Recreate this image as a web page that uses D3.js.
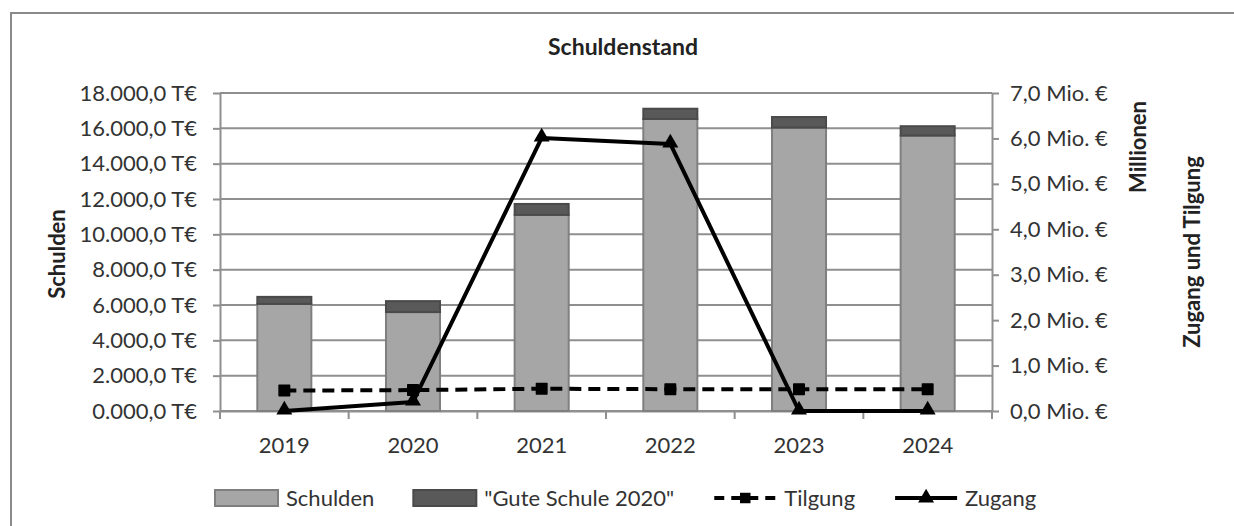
<!DOCTYPE html>
<html>
<head>
    <title>Schuldenstand</title>
    <meta charset="utf-8">
    <style>
        body { margin: 0; background: #fff; }
        text { font-family: Lato, "Open Sans", sans-serif; fill: #333; }
    </style>
</head>
<body>
<script src="https://d3js.org/d3.v7.min.js"></script>
<script>
    // Data
    const years = ['2019', '2020', '2021', '2022', '2023', '2024'];
    const schulden = [6060, 5600, 11100, 16530, 16040, 15590];     // T€
    const guteSchule = [400, 620, 620, 580, 600, 530];             // T€
    const tilgung = [0.45, 0.46, 0.49, 0.48, 0.48, 0.48];          // Mio. €
    const zugang = [0, 0.2, 6.01, 5.88, 0, 0];                     // Mio. €
    const leftTicks = [0, 2000, 4000, 6000, 8000, 10000, 12000, 14000, 16000, 18000];
    const rightTicks = [0, 1, 2, 3, 4, 5, 6, 7];

    const SIZES = {WIDTH: 1234, HEIGHT: 526, LEFT: 220, RIGHT: 992, TOP: 93, BOTTOM: 411};
    const GRID = '#8f8f8f';

    const de = d3.formatLocale({decimal: ',', thousands: '.', grouping: [3], currency: ['', '€']});
    const fmtLeft = v => de.format('07,.1f')(v) + ' T€';
    const fmtRight = v => de.format('.1f')(v) + ' Mio. €';

    const svg = d3.select('body').append('svg')
        .attr('width', SIZES.WIDTH)
        .attr('height', SIZES.HEIGHT);

    // chart border (runs off the right and bottom of the picture)
    svg.append('rect')
        .attr('x', 11).attr('y', 13)
        .attr('width', 1400).attr('height', 700)
        .attr('fill', 'none').attr('stroke', '#8a8a8a').attr('stroke-width', 2);

    const x = d3.scaleBand().domain(years).range([SIZES.LEFT, SIZES.RIGHT]);
    const yL = d3.scaleLinear().domain([0, 18000]).range([SIZES.BOTTOM, SIZES.TOP]);
    const yR = d3.scaleLinear().domain([0, 7]).range([SIZES.BOTTOM, SIZES.TOP]);
    const cx = d => x(d) + x.bandwidth() / 2;

    // gridlines
    svg.append('g').selectAll('line').data(leftTicks).join('line')
        .attr('x1', SIZES.LEFT).attr('x2', SIZES.RIGHT)
        .attr('y1', d => yL(d)).attr('y2', d => yL(d))
        .attr('stroke', GRID).attr('stroke-width', 2);

    // axes
    const styleAxis = g => {
        g.select('.domain').attr('stroke', GRID).attr('stroke-width', 2);
        g.selectAll('.tick line').attr('stroke', GRID).attr('stroke-width', 2);
        g.selectAll('text').attr('font-size', 22).attr('fill', '#333')
            .style('font-family', 'Lato, sans-serif');
    };
    svg.append('g')
        .attr('transform', `translate(${SIZES.LEFT},0)`)
        .call(d3.axisLeft(yL).tickValues(leftTicks).tickFormat(fmtLeft).tickSize(7).tickSizeOuter(0).tickPadding(16))
        .call(styleAxis);
    svg.append('g')
        .attr('transform', `translate(${SIZES.RIGHT},0)`)
        .call(d3.axisRight(yR).tickValues(rightTicks).tickFormat(fmtRight).tickSize(7).tickSizeOuter(0).tickPadding(11))
        .call(styleAxis);
    const xAxis = svg.append('g')
        .attr('transform', `translate(0,${SIZES.BOTTOM})`)
        .call(d3.axisBottom(x).tickSize(0).tickPadding(26))
        .call(styleAxis);
    // category separators below the axis
    xAxis.selectAll('.sep').data(years.concat(['end'])).join('line')
        .attr('class', 'sep')
        .attr('x1', (d, i) => SIZES.LEFT + i * x.step()).attr('x2', (d, i) => SIZES.LEFT + i * x.step())
        .attr('y1', 0).attr('y2', 8)
        .attr('stroke', GRID).attr('stroke-width', 2);

    // stacked bars
    const barW = x.bandwidth() * 0.42;
    const bars = svg.append('g');
    bars.selectAll('.schulden').data(years).join('rect')
        .attr('x', d => cx(d) - barW / 2)
        .attr('y', (d, i) => yL(schulden[i]))
        .attr('width', barW)
        .attr('height', (d, i) => yL(0) - yL(schulden[i]))
        .attr('fill', '#a6a6a6').attr('stroke', '#7f7f7f').attr('stroke-width', 2);
    bars.selectAll('.gute').data(years).join('rect')
        .attr('x', d => cx(d) - barW / 2)
        .attr('y', (d, i) => yL(schulden[i] + guteSchule[i]))
        .attr('width', barW)
        .attr('height', (d, i) => yL(schulden[i]) - yL(schulden[i] + guteSchule[i]))
        .attr('fill', '#595959').attr('stroke', '#4a4a4a').attr('stroke-width', 2);

    // lines on the right axis
    const line = d3.line().x((d, i) => cx(years[i])).y(d => yR(d));
    svg.append('path').datum(tilgung)
        .attr('d', line).attr('fill', 'none')
        .attr('stroke', '#000').attr('stroke-width', 4).attr('stroke-dasharray', '12,7');
    svg.append('path').datum(zugang)
        .attr('d', line).attr('fill', 'none')
        .attr('stroke', '#000').attr('stroke-width', 4).attr('stroke-linejoin', 'round');

    const square = d3.symbol().type(d3.symbolSquare).size(110);
    const triangle = d3.symbol().type(d3.symbolTriangle).size(110);
    svg.append('g').selectAll('path').data(tilgung).join('path')
        .attr('d', square)
        .attr('transform', (d, i) => `translate(${cx(years[i])},${yR(d)})`)
        .attr('fill', '#000').attr('stroke', '#000').attr('stroke-width', 1.5).attr('stroke-linejoin', 'round');
    svg.append('g').selectAll('path').data(zugang).join('path')
        .attr('d', triangle)
        .attr('transform', (d, i) => `translate(${cx(years[i])},${yR(d) - 1})`)
        .attr('fill', '#000');

    // titles
    svg.append('text')
        .attr('x', 623).attr('y', 55)
        .attr('text-anchor', 'middle')
        .attr('font-size', 23).attr('font-weight', 'bold')
        .style('fill', '#222')
        .text('Schuldenstand');
    svg.append('text')
        .attr('transform', 'translate(65,254) rotate(-90)')
        .attr('text-anchor', 'middle')
        .attr('font-size', 22).attr('font-weight', 'bold').style('fill', '#222')
        .text('Schulden');
    svg.append('text')
        .attr('transform', 'translate(1146,147) rotate(-90)')
        .attr('text-anchor', 'middle')
        .attr('font-size', 22).attr('font-weight', 'bold').style('fill', '#222')
        .text('Millionen');
    svg.append('text')
        .attr('transform', 'translate(1200,252) rotate(-90)')
        .attr('text-anchor', 'middle')
        .attr('font-size', 22).attr('font-weight', 'bold').style('fill', '#222')
        .text('Zugang und Tilgung');

    // legend
    const legendItems = [
        {name: 'Schulden', kind: 'bar', fill: '#a6a6a6', stroke: '#7f7f7f'},
        {name: '"Gute Schule 2020"', kind: 'bar', fill: '#595959', stroke: '#4a4a4a'},
        {name: 'Tilgung', kind: 'dash'},
        {name: 'Zugang', kind: 'solid'}
    ];
    const LY = 498;
    let lx = 214;
    legendItems.forEach(item => {
        const g = svg.append('g').attr('transform', `translate(${lx},${LY})`);
        if (item.kind === 'bar') {
            g.append('rect').attr('x', 1).attr('y', -8).attr('width', 63).attr('height', 16)
                .attr('fill', item.fill).attr('stroke', item.stroke).attr('stroke-width', 2);
        } else {
            g.append('line').attr('x1', 2).attr('x2', 64).attr('y1', 0).attr('y2', 0)
                .attr('stroke', '#000').attr('stroke-width', 4)
                .attr('stroke-dasharray', item.kind === 'dash' ? '10,7' : null);
            g.append('path')
                .attr('d', item.kind === 'dash' ? square : triangle)
                .attr('transform', 'translate(33,0)')
                .attr('fill', '#000');
        }
        const t = g.append('text').attr('x', 72).attr('y', 8)
            .attr('font-size', 22).text(item.name);
        lx += 72 + t.node().getComputedTextLength() + 38;
    });
</script>
</body>
</html>
